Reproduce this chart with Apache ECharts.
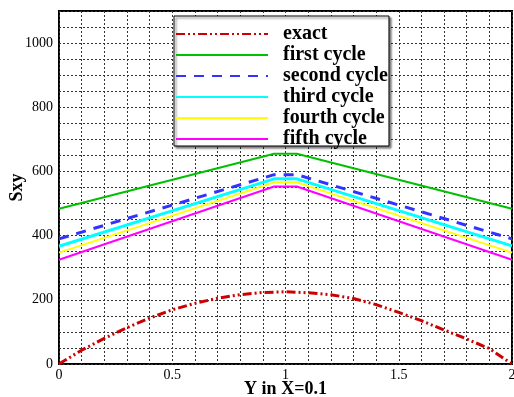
<!DOCTYPE html>
<html>
<head>
<meta charset="utf-8">
<script src="https://cdn.jsdelivr.net/npm/echarts@6/dist/echarts.min.js"></script>
<style>
html,body{margin:0;padding:0;background:#fff;}
#chart{width:514px;height:397px;}
</style>
</head>
<body>
<div id="chart"></div>
<script>
// data
let exactX=[0,0.1,0.2,0.3,0.4,0.5,0.6,0.7,0.8,0.9,1,1.1,1.2,1.3,1.4,1.5,1.6,1.7,1.8,1.9,2];
let exactY=[0,43,80,113,143,169,189,205,216,223,225,222,216,204,185,161,135,106,78,48,0];
let cycleX=[0,0.95,1.05,2];
let first=[484,655,655,484];
let second=[390,590,590,390];
let third=[367,577,577,368];
let fourth=[347,566,566,347];
let fifth=[325,553,553,325];
let names=["exact","first cycle","second cycle","third cycle","fourth cycle","fifth cycle"];

function pairs(xs,ys){
    let out=[];
    for(let i=0;i<xs.length;i++){
        out.push([xs[i],ys[i]]);
    }
    return out;
}

let serif="'Liberation Serif','Times New Roman',serif";
let myChart=echarts.init(document.getElementById("chart"));

function line(name,data,color,width,type){
    return {
        name:name,
        type:'line',
        data:data,
        showSymbol:false,
        symbol:'none',
        animation:false,
        lineStyle:{color:color,width:width,type:type},
        itemStyle:{color:color}
    };
}

let option={
    animation:false,
    grid:{
        left:59,right:2,top:11,bottom:33,
        containLabel:false,outerBoundsMode:'none',
        show:true,borderColor:'#000',borderWidth:2,backgroundColor:'transparent'
    },
    xAxis:{
        type:'value',min:0,max:2,interval:0.1,
        name:'Y in X=0.1',nameLocation:'middle',nameGap:16,nameMoveOverlap:false,
        nameTextStyle:{fontFamily:serif,fontWeight:'bold',fontSize:18,color:'#000',verticalAlign:'top'},
        axisLine:{show:false},
        axisTick:{show:false},
        axisLabel:{
            fontFamily:serif,fontSize:14,color:'#000',margin:4,
            formatter:function(v){
                if(Math.abs(v*2-Math.round(v*2))<1e-6) return String(Math.round(v*2)/2);
                return '';
            }
        },
        splitLine:{show:true,lineStyle:{color:'#333',width:1,type:[2,2]}}
    },
    yAxis:{
        type:'value',min:0,max:1100,interval:50,
        name:'Sxy',nameLocation:'middle',nameGap:42,nameMoveOverlap:false,
        nameTextStyle:{fontFamily:serif,fontWeight:'bold',fontSize:18,color:'#000',verticalAlign:'middle'},
        axisLine:{show:false},
        axisTick:{show:false},
        axisLabel:{
            fontFamily:serif,fontSize:14,color:'#000',margin:6,
            formatter:function(v){
                return (v%200===0 && v<=1000)?String(v):'';
            }
        },
        splitLine:{show:true,lineStyle:{color:'#333',width:1,type:[2,2]}}
    },
    legend:{
        data:names,
        orient:'vertical',
        left:174,top:16,
        itemWidth:92,itemHeight:14,itemGap:1,
        padding:[8,1,-3,1],
        backgroundColor:'#fff',
        borderColor:'#000',borderWidth:1,
        shadowColor:'rgba(0,0,0,0.5)',shadowBlur:2,shadowOffsetX:2,shadowOffsetY:2,
        itemStyle:{opacity:0},
        textStyle:{fontFamily:serif,fontWeight:'bold',fontSize:20,color:'#000',padding:[0,0,0,10]}
    },
    series:[
        line(names[0],pairs(exactX,exactY),'#cc0000',3,[9,3,2,3,2,3]),
        line(names[1],pairs(cycleX,first),'#00c000',2,'solid'),
        line(names[2],pairs(cycleX,second),'#3333ff',3,[10,8]),
        line(names[3],pairs(cycleX,third),'#00ffff',3,'solid'),
        line(names[4],pairs(cycleX,fourth),'#ffff00',2,'solid'),
        line(names[5],pairs(cycleX,fifth),'#ff00ff',2,'solid')
    ]
};
myChart.setOption(option);
</script>
</body>
</html>
